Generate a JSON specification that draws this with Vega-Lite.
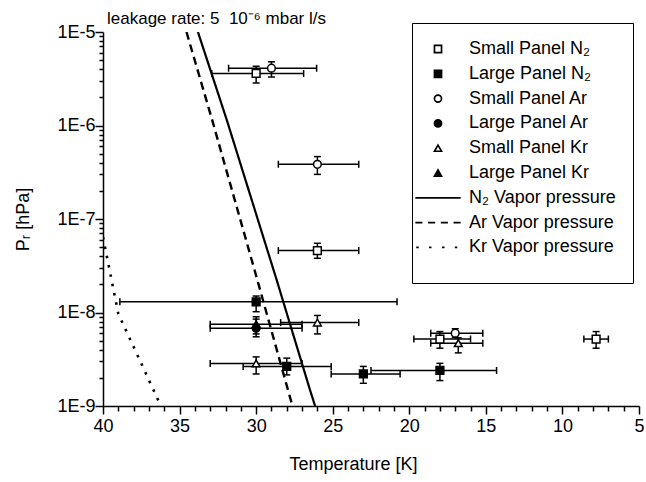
{
  "$schema": "https://vega.github.io/schema/vega-lite/v6.json",
  "autosize": {"type": "none"},
  "width": 536,
  "height": 374,
  "padding": {"left": 103, "top": 32, "right": 7, "bottom": 76},
  "config": {"view": {"stroke": null}, "font": "Liberation Sans"},
  "title": {"text": "leakage rate: 5 \u00a010⁻⁶ mbar l/s", "anchor": "start", "frame": "group", "offset": -5, "dx": 4, "fontSize": 17, "font": "Liberation Sans", "fontWeight": "normal", "color": "black"},
  "resolve": {"axis": {"x": "independent"}},
  "datasets": {
    "pts": [
      {"s": "Small Panel N₂", "T": 30, "Tlo": 26.9, "Thi": 32.9, "P": 3.6e-6, "Plo": 2.85e-6, "Phi": 4.3e-6},
      {"s": "Small Panel Ar", "T": 29, "Tlo": 26.05, "Thi": 31.8, "P": 4.1e-6, "Plo": 3.3e-6, "Phi": 4.8e-6},
      {"s": "Small Panel Ar", "T": 26, "Tlo": 23.3, "Thi": 28.55, "P": 3.85e-7, "Plo": 3.0e-7, "Phi": 4.65e-7},
      {"s": "Small Panel N₂", "T": 26, "Tlo": 23.3, "Thi": 28.55, "P": 4.6e-8, "Plo": 3.8e-8, "Phi": 5.5e-8},
      {"s": "Large Panel N₂", "T": 30, "Tlo": 20.8, "Thi": 38.9, "P": 1.3e-8, "Plo": 1.02e-8, "Phi": 1.5e-8},
      {"s": "Large Panel Ar", "T": 30, "Tlo": 27, "Thi": 33, "P": 6.8e-9, "Plo": 5.9e-9, "Phi": 9.0e-9},
      {"s": "Large Panel Kr", "T": 30, "Tlo": 27, "Thi": 33, "P": 7.5e-9, "Plo": 5.5e-9, "Phi": 8.5e-9},
      {"s": "Small Panel Kr", "T": 26, "Tlo": 23.3, "Thi": 28.4, "P": 7.8e-9, "Plo": 5.9e-9, "Phi": 9.3e-9},
      {"s": "Small Panel Kr", "T": 30, "Tlo": 27, "Thi": 33, "P": 2.85e-9, "Plo": 2.2e-9, "Phi": 3.35e-9},
      {"s": "Large Panel N₂", "T": 28, "Tlo": 25.1, "Thi": 30.85, "P": 2.65e-9, "Plo": 2.15e-9, "Phi": 3.25e-9},
      {"s": "Large Panel N₂", "T": 23, "Tlo": 20.6, "Thi": 25.1, "P": 2.2e-9, "Plo": 1.75e-9, "Phi": 2.65e-9},
      {"s": "Large Panel N₂", "T": 18, "Tlo": 14.3, "Thi": 22.5, "P": 2.4e-9, "Plo": 1.87e-9, "Phi": 2.86e-9},
      {"s": "Small Panel N₂", "T": 18, "Tlo": 16.0, "Thi": 19.7, "P": 5.2e-9, "Plo": 4.15e-9, "Phi": 6.25e-9},
      {"s": "Small Panel Ar", "T": 17, "Tlo": 15.2, "Thi": 18.6, "P": 6.0e-9, "Plo": 5.4e-9, "Phi": 6.7e-9},
      {"s": "Small Panel Kr", "T": 16.8, "Tlo": 15.2, "Thi": 18.6, "P": 4.7e-9, "Plo": 3.7e-9, "Phi": 5.35e-9},
      {"s": "Small Panel N₂", "T": 7.8, "Tlo": 7.0, "Thi": 8.6, "P": 5.2e-9, "Plo": 4.15e-9, "Phi": 6.25e-9}
    ],
    "lines": [
      {"s": "N₂ Vapor pressure", "T": 33.8, "P": 1e-5},
      {"s": "N₂ Vapor pressure", "T": 31.92, "P": 1.15e-6},
      {"s": "N₂ Vapor pressure", "T": 28.66, "P": 2.23e-8},
      {"s": "N₂ Vapor pressure", "T": 26.48, "P": 1.48e-9},
      {"s": "N₂ Vapor pressure", "T": 26.15, "P": 1e-9},
      {"s": "Ar Vapor pressure", "T": 34.55, "P": 1e-5},
      {"s": "Ar Vapor pressure", "T": 32.9, "P": 1.19e-6},
      {"s": "Ar Vapor pressure", "T": 29.86, "P": 2.05e-8},
      {"s": "Ar Vapor pressure", "T": 27.68, "P": 1.07e-9},
      {"s": "Ar Vapor pressure", "T": 27.62, "P": 1e-9},
      {"s": "Kr Vapor pressure", "T": 40, "P": 6.4e-8},
      {"s": "Kr Vapor pressure", "T": 39.0, "P": 9.7e-9},
      {"s": "Kr Vapor pressure", "T": 36.28, "P": 1.05e-9},
      {"s": "Kr Vapor pressure", "T": 36.22, "P": 1e-9}
    ]
  },
  "layer": [
    {
      "data": {"name": "pts"},
      "mark": {"type": "rule", "strokeWidth": 1.5, "color": "black"},
      "encoding": {
        "x": {"field": "Tlo", "type": "quantitative",
          "scale": {"domain": [5, 40], "reverse": true, "nice": false, "zero": false},
          "axis": {"orient": "bottom", "title": "Temperature [K]", "titleFontSize": 18, "titleFontWeight": "normal", "titleColor": "black", "titlePadding": 20, "titleX": 250,
            "labelFontSize": 18, "labelColor": "black", "labelFlush": false, "labelPadding": 3, "labelOverlap": false,
            "domainColor": "black", "domainWidth": 1.5, "tickColor": "black", "tickWidth": 1.5, "tickSize": 8, "grid": false,
            "values": [5, 10, 15, 20, 25, 30, 35, 40], "format": "d"}},
        "x2": {"field": "Thi"},
        "y": {"field": "P", "type": "quantitative",
          "scale": {"type": "log", "domain": [1e-9, 1e-5], "nice": false},
          "axis": {"title": "Pᵣ [hPa]", "titleFontSize": 18, "titleFontWeight": "normal", "titleColor": "black", "titlePadding": 24,
            "labelFontSize": 18, "labelColor": "black", "labelFlush": false, "labelPadding": 0, "labelOverlap": false,
            "domainColor": "black", "domainWidth": 1.5, "tickColor": "black", "tickWidth": 1.5, "grid": false,
            "values": [1e-9,2e-9,3e-9,4e-9,5e-9,6e-9,7e-9,8e-9,9e-9,1e-8,2e-8,3e-8,4e-8,5e-8,6e-8,7e-8,8e-8,9e-8,1e-7,2e-7,3e-7,4e-7,5e-7,6e-7,7e-7,8e-7,9e-7,1e-6,2e-6,3e-6,4e-6,5e-6,6e-6,7e-6,8e-6,9e-6,1e-5],
            "labelExpr": "abs(log(datum.value)/LN10 - round(log(datum.value)/LN10)) < 0.01 ? '1E' + round(log(datum.value)/LN10) : ''",
            "tickSize": {"condition": {"test": "abs(log(datum.value)/LN10 - round(log(datum.value)/LN10)) < 0.01", "value": 8}, "value": 4}}}
      }
    },
    {
      "data": {"name": "pts"},
      "mark": {"type": "tick", "orient": "vertical", "size": 7, "thickness": 1.5, "color": "black", "opacity": 1},
      "encoding": {
        "x": {"field": "Tlo", "type": "quantitative",
          "axis": {"orient": "bottom", "title": null, "labels": false, "domain": false, "grid": false,
            "tickColor": "black", "tickWidth": 1.5, "tickSize": 5,
            "values": [6,7,8,9,11,12,13,14,16,17,18,19,21,22,23,24,26,27,28,29,31,32,33,34,36,37,38,39]}},
        "y": {"field": "P", "type": "quantitative"}}
    },
    {
      "data": {"name": "pts"},
      "mark": {"type": "tick", "orient": "vertical", "size": 7, "thickness": 1.5, "color": "black", "opacity": 1},
      "encoding": {"x": {"field": "Thi", "type": "quantitative", "axis": null}, "y": {"field": "P", "type": "quantitative"}}
    },
    {
      "data": {"name": "pts"},
      "mark": {"type": "rule", "strokeWidth": 1.5, "color": "black"},
      "encoding": {"x": {"field": "T", "type": "quantitative", "axis": null}, "y": {"field": "Plo", "type": "quantitative"}, "y2": {"field": "Phi"}}
    },
    {
      "data": {"name": "pts"},
      "mark": {"type": "tick", "orient": "horizontal", "size": 7, "thickness": 1.5, "color": "black", "opacity": 1},
      "encoding": {"x": {"field": "T", "type": "quantitative", "axis": null}, "y": {"field": "Plo", "type": "quantitative"}}
    },
    {
      "data": {"name": "pts"},
      "mark": {"type": "tick", "orient": "horizontal", "size": 7, "thickness": 1.5, "color": "black", "opacity": 1},
      "encoding": {"x": {"field": "T", "type": "quantitative", "axis": null}, "y": {"field": "Phi", "type": "quantitative"}}
    },
    {
      "data": {"name": "lines"},
      "mark": {"type": "line", "color": "black", "clip": true},
      "encoding": {
        "x": {"field": "T", "type": "quantitative", "axis": null},
        "y": {"field": "P", "type": "quantitative"},
        "strokeDash": {"field": "s", "type": "nominal", "legend": null,
          "scale": {"domain": ["N₂ Vapor pressure", "Ar Vapor pressure", "Kr Vapor pressure"], "range": [[1, 0], [8, 5], [2.5, 7]]}},
        "strokeWidth": {"field": "s", "type": "nominal", "legend": null,
          "scale": {"domain": ["N₂ Vapor pressure", "Ar Vapor pressure", "Kr Vapor pressure"], "range": [2.2, 2.6, 3]}}
      }
    },
    {
      "data": {"name": "pts"},
      "mark": {"type": "point", "filled": true, "strokeWidth": 1.5, "opacity": 1, "size": 60},
      "encoding": {
        "x": {"field": "T", "type": "quantitative", "axis": null},
        "y": {"field": "P", "type": "quantitative"},
        "shape": {"field": "s", "type": "nominal",
          "scale": {"domain": ["Small Panel N₂", "Large Panel N₂", "Small Panel Ar", "Large Panel Ar", "Small Panel Kr", "Large Panel Kr", "N₂ Vapor pressure", "Ar Vapor pressure", "Kr Vapor pressure"],
            "range": ["square", "square", "circle", "circle", "triangle-up", "triangle-up", "M-6.4,0H6.4", "M-6.4,0H-4.4M-2.8,0H-0.8M0.8,0H2.8M4.4,0H6.4", "M-6.15,0H-5.45M-2.55,0H-1.85M1.15,0H1.85M4.75,0H5.45"]},
          "legend": {"title": " ", "titleOrient": "bottom", "titleFontSize": 5, "orient": "none", "legendX": 309, "legendY": -9, "padding": 17,
            "strokeColor": "black", "fillColor": "white", "labelFontSize": 18, "labelFont": "Liberation Sans", "labelColor": "black",
            "symbolSize": 50, "symbolStrokeWidth": 1.7, "labelOffset": 22, "rowPadding": 6.8, "symbolLimit": 0}},
        "fill": {"field": "s", "type": "nominal",
          "scale": {"domain": ["Small Panel N₂", "Large Panel N₂", "Small Panel Ar", "Large Panel Ar", "Small Panel Kr", "Large Panel Kr", "N₂ Vapor pressure", "Ar Vapor pressure", "Kr Vapor pressure"],
            "range": ["white", "black", "white", "black", "white", "black", "white", "white", "white"]}},
        "stroke": {"field": "s", "type": "nominal",
          "scale": {"domain": ["Small Panel N₂", "Large Panel N₂", "Small Panel Ar", "Large Panel Ar", "Small Panel Kr", "Large Panel Kr", "N₂ Vapor pressure", "Ar Vapor pressure", "Kr Vapor pressure"],
            "range": ["black", "black", "black", "black", "black", "black", "black", "black", "black"]}}
      }
    }
  ]
}
